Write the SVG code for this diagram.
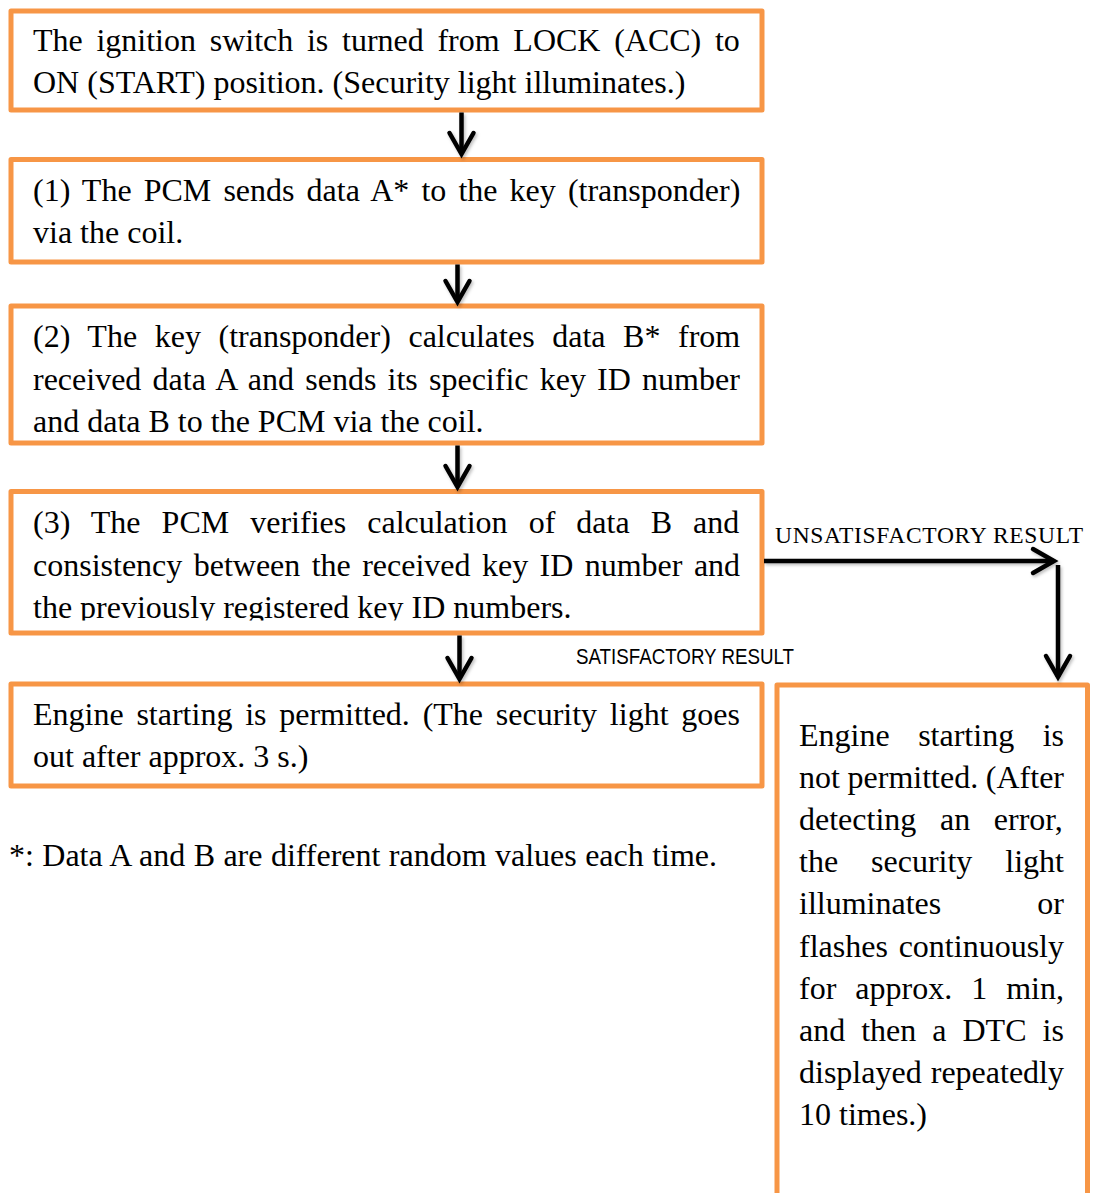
<svg xmlns="http://www.w3.org/2000/svg" width="1093" height="1193" viewBox="0 0 1093 1193">
  <style>
    .box { fill: #ffffff; stroke: #F79646; stroke-width: 5; stroke-linejoin: round; }
    .t { font-family: "Liberation Serif", "Times New Roman", serif; font-size: 32px; fill: #000; }
    .lbl { font-family: "Liberation Serif", "Times New Roman", serif; font-size: 23.5px; fill: #000; }
    .lbl-sans { font-family: "Liberation Sans Narrow", "Liberation Sans", Arial, sans-serif; font-size: 22px; fill: #000; }
    .flow { fill: none; stroke: #000; stroke-width: 4.5; marker-end: url(#chev); }
  </style>
  <defs>
    <marker id="chev" markerUnits="userSpaceOnUse" orient="auto" refX="0" refY="0" markerWidth="30" markerHeight="30" overflow="visible">
      <path d="M-21,-12 L0,0 L-21,12" fill="none" stroke="#000" stroke-width="4.5" stroke-linejoin="miter" stroke-linecap="round"/>
    </marker>
    <filter id="soft" filterUnits="userSpaceOnUse" x="0" y="0" width="1093" height="1193">
      <feDropShadow dx="1.5" dy="2" stdDeviation="1.5" flood-color="#000" flood-opacity="0.25"/>
    </filter>
    <clipPath id="cut4">
      <rect x="0" y="0" width="1093" height="620.5"/>
    </clipPath>
  </defs>

  <rect width="1093" height="1193" fill="#ffffff"/>

  <!-- ignition switch -->
  <g id="node-ignition">
    <rect class="box" x="11" y="11" width="751" height="99"/>
    <text class="t" x="33" y="51" word-spacing="5.7">The ignition switch is turned from LOCK (ACC) to</text>
    <text class="t" x="33" y="93">ON (START) position. (Security light illuminates.)</text>
  </g>

  <!-- step 1 -->
  <g id="node-step1">
    <rect class="box" x="11" y="159.5" width="751" height="102.5"/>
    <text class="t" x="33" y="201" word-spacing="4.1">(1) The PCM sends data A* to the key (transponder)</text>
    <text class="t" x="33" y="243">via the coil.</text>
  </g>

  <!-- step 2 -->
  <g id="node-step2">
    <rect class="box" x="11" y="306" width="751" height="137"/>
    <text class="t" x="33" y="347" word-spacing="9.6">(2) The key (transponder) calculates data B* from</text>
    <text class="t" x="33" y="390" word-spacing="3.2">received data A and sends its specific key ID number</text>
    <text class="t" x="33" y="432">and data B to the PCM via the coil.</text>
  </g>

  <!-- step 3 -->
  <g id="node-step3">
    <rect class="box" x="11" y="491.5" width="751" height="141.5"/>
    <text class="t" x="33" y="533" word-spacing="13.05">(3) The PCM verifies calculation of data B and</text>
    <text class="t" x="33" y="576" word-spacing="3.4">consistency between the received key ID number and</text>
    <text class="t" x="33" y="618" clip-path="url(#cut4)">the previously registered key ID numbers.</text>
  </g>

  <!-- permitted -->
  <g id="node-permitted">
    <rect class="box" x="11" y="684" width="751" height="102"/>
    <text class="t" x="33" y="725" word-spacing="4.76">Engine starting is permitted. (The security light goes</text>
    <text class="t" x="33" y="767">out after approx. 3 s.)</text>
  </g>

  <!-- not permitted -->
  <g id="node-not-permitted">
    <path class="box" d="M777,1200 V685 H1087.5 V1200"/>
    <text class="t" x="799" y="746" word-spacing="20.5">Engine starting is</text>
    <text class="t" x="799" y="788" word-spacing="-0.35">not permitted. (After</text>
    <text class="t" x="799" y="830" word-spacing="15.65">detecting an error,</text>
    <text class="t" x="799" y="872" word-spacing="24.95">the security light</text>
    <text class="t" y="914"><tspan x="799">illuminates</tspan><tspan x="1064" text-anchor="end">or</tspan></text>
    <text class="t" x="799" y="956.5" word-spacing="2.8">flashes continuously</text>
    <text class="t" x="799" y="999" word-spacing="11">for approx. 1 min,</text>
    <text class="t" x="799" y="1041" word-spacing="8">and then a DTC is</text>
    <text class="t" x="799" y="1083" word-spacing="1.1">displayed repeatedly</text>
    <text class="t" x="799" y="1125">10 times.)</text>
  </g>

  <!-- footnote -->
  <g id="footnote">
    <text class="t" x="9" y="866" word-spacing="0.4">*: Data A and B are different random values each time.</text>
  </g>

  <!-- connectors -->
  <g id="connectors" filter="url(#soft)">
    <line class="flow" x1="461.5" y1="112.5" x2="461.5" y2="154"/>
    <line class="flow" x1="457.5" y1="264.5" x2="457.5" y2="302"/>
    <line class="flow" x1="457.5" y1="445.5" x2="457.5" y2="487"/>
    <line class="flow" x1="459.5" y1="635.5" x2="459.5" y2="679"/>
    <line class="flow" x1="764" y1="561" x2="1054" y2="561"/>
    <line class="flow" x1="1058" y1="565" x2="1058" y2="677"/>
  </g>
  <g id="connector-labels">
    <text class="lbl" x="775" y="543" textLength="308" lengthAdjust="spacing">UNSATISFACTORY RESULT</text>
    <text class="lbl-sans" x="576" y="664" textLength="218" lengthAdjust="spacingAndGlyphs">SATISFACTORY RESULT</text>
  </g>
</svg>
